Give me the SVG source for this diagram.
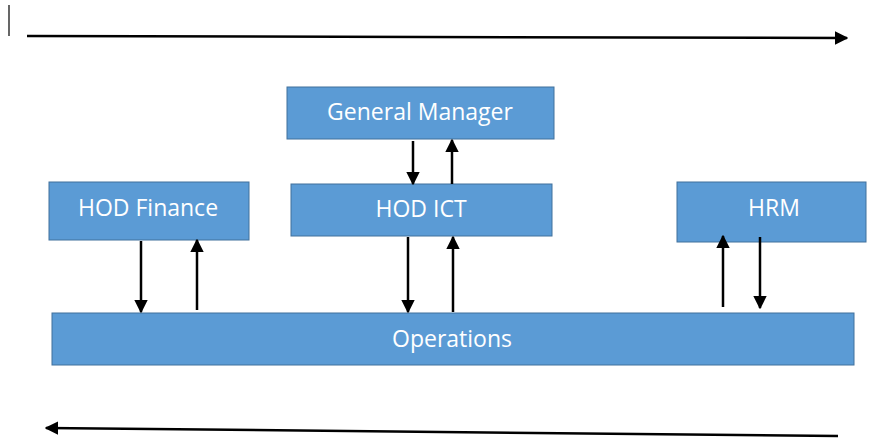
<svg xmlns="http://www.w3.org/2000/svg" width="876" height="441" viewBox="0 0 876 441">
  <style>
    .box { fill: #5b9bd5; stroke: #41719c; stroke-width: 1; }
    .lbl { fill: #ffffff; font-family: "Open Sans", "Liberation Sans", sans-serif; font-size: 23px; text-anchor: middle; dominant-baseline: central; }
    .link { stroke: #000000; stroke-width: 2.5; fill: none; marker-end: url(#head); }
    .flow { stroke: #000000; stroke-width: 2.5; fill: none; marker-end: url(#head); }
  </style>
  <defs>
    <marker id="head" viewBox="0 0 10 10" refX="9" refY="5" markerWidth="5.5" markerHeight="5.5" orient="auto" markerUnits="strokeWidth">
      <path d="M0,0 L10,5 L0,10 z" fill="#000000"/>
    </marker>
  </defs>
  <rect width="876" height="441" fill="#ffffff"/>

  <!-- cursor mark -->
  <line x1="9" y1="5" x2="9" y2="36" stroke="#000000" stroke-width="1.2"/>

  <g id="gm">
    <rect class="box" x="287" y="87" width="267" height="52"/>
    <text class="lbl" x="420" y="111">General Manager</text>
  </g>
  <g id="hod-ict">
    <rect class="box" x="291" y="184" width="261" height="52"/>
    <text class="lbl" x="421" y="208">HOD ICT</text>
  </g>
  <g id="hod-finance">
    <rect class="box" x="49" y="182" width="200" height="58"/>
    <text class="lbl" x="148" y="207">HOD Finance</text>
  </g>
  <g id="hrm">
    <rect class="box" x="677" y="182" width="189" height="60"/>
    <text class="lbl" x="774" y="207">HRM</text>
  </g>
  <g id="operations">
    <rect class="box" x="52" y="313" width="802" height="52"/>
    <text class="lbl" x="452" y="338">Operations</text>
  </g>

  <g id="connectors">
    <!-- top / bottom flow -->
    <line class="flow" x1="27" y1="36" x2="847" y2="38"/>
    <line class="flow" x1="838" y1="436" x2="46" y2="428"/>
    <!-- GM <-> HOD ICT -->
    <line class="link" x1="413" y1="141" x2="413" y2="184"/>
    <line class="link" x1="452" y1="184" x2="452" y2="140"/>
    <!-- HOD ICT <-> Operations -->
    <line class="link" x1="408" y1="237" x2="408" y2="312"/>
    <line class="link" x1="453" y1="312" x2="453" y2="237"/>
    <!-- HOD Finance <-> Operations -->
    <line class="link" x1="141" y1="241" x2="141" y2="312"/>
    <line class="link" x1="197" y1="310" x2="197" y2="240"/>
    <!-- HRM <-> Operations -->
    <line class="link" x1="723" y1="307" x2="723" y2="236"/>
    <line class="link" x1="760" y1="237" x2="760" y2="308"/>
  </g>
</svg>
